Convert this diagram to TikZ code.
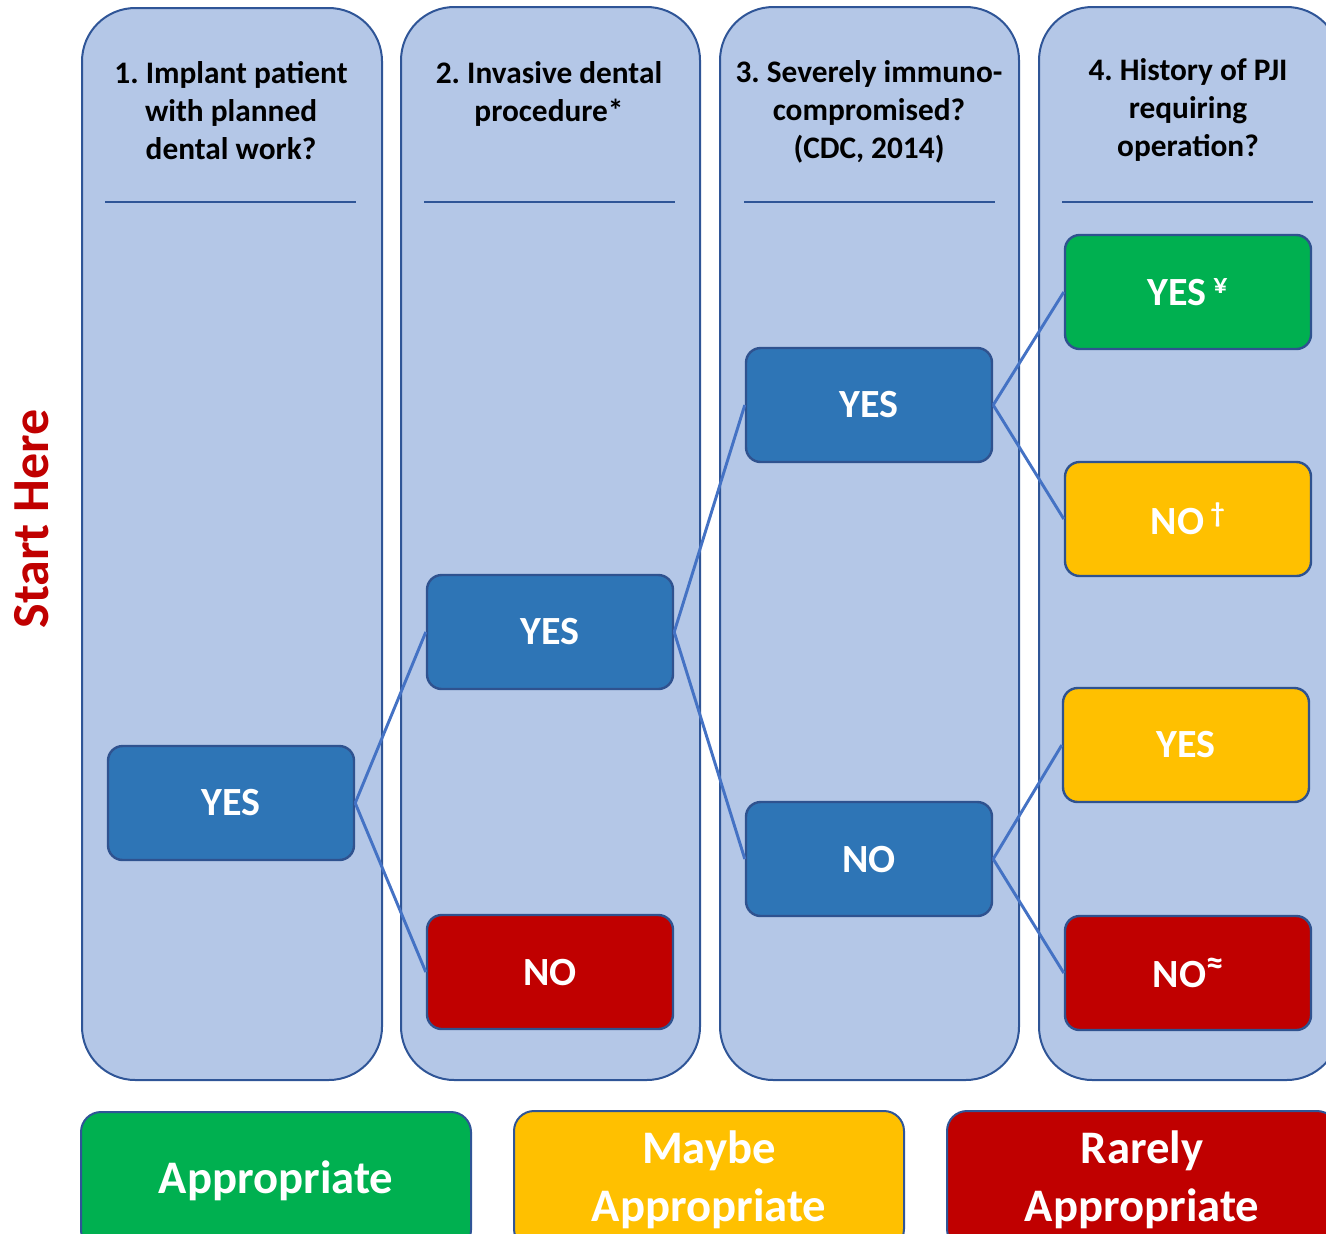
\documentclass[tikz,border=0pt]{standalone}
\usepackage{fontspec}
\setmainfont{Carlito}
\frenchspacing
\definecolor{lanefill}{RGB}{180,199,231}
\definecolor{laneedge}{RGB}{47,85,151}
\definecolor{boxblue}{RGB}{46,117,182}
\definecolor{boxedge}{RGB}{47,82,143}
\definecolor{okgreen}{RGB}{0,176,80}
\definecolor{maybeyellow}{RGB}{255,192,0}
\definecolor{rarered}{RGB}{192,0,0}
\definecolor{linkblue}{RGB}{68,114,196}

\begin{document}
\begin{tikzpicture}[x=0.75pt,y=0.75pt,yscale=-1,xscale=1,
  lane/.style={draw=laneedge,fill=lanefill,line width=1.5pt,rounded corners=40pt},
  rule/.style={draw=laneedge,line width=1.5pt},
  question/.style={align=center,font=\bfseries\fontsize{23.5}{28.5}\selectfont},
  choice/.style={draw=boxedge,line width=1.8pt,rounded corners=11pt,minimum width=184.5pt,minimum height=85.5pt,inner sep=0pt,text=white,font=\bfseries\fontsize{30}{36}\selectfont},
  verdict/.style={draw=laneedge,line width=1.5pt,rounded corners=15pt,minimum width=292.5pt,minimum height=103.5pt,inner sep=0pt,align=center,text=white,font=\bfseries\fontsize{35}{43.5}\selectfont},
  link/.style={draw=linkblue,line width=2.2pt}]
\clip (0,0) rectangle (1326,1233);

%Lanes
\draw[lane] (82,8) rectangle (382,1080);
\draw[lane] (401,7) rectangle (700,1080);
\draw[lane] (720,7) rectangle (1019,1080);
\draw[lane] (1039,7) rectangle (1340,1080);

%Header rules
\draw[rule] (105,202) -- (356,202);
\draw[rule] (424,202) -- (675,202);
\draw[rule] (744,202) -- (995,202);
\draw[rule] (1062,202) -- (1313,202);

%Questions
\node[question] (q1) at (231,111) {1. Implant patient\\with planned\\dental work?};
\node[question] (q2) at (549,94) {2. Invasive dental\\procedure*};
\node[question] (q3) at (869,112) {3. Severely immuno-\\compromised?\\(CDC, 2014)};
\node[question] (q4) at (1188,110) {4. History of PJI\\requiring\\operation?};

%Start label
\node[rotate=90,text=rarered,font=\bfseries\fontsize{39}{47}\selectfont] (start) at (32,519) {Start Here};

%Choices
\node[choice,fill=boxblue] (yesA) at (231,803) {YES};
\node[choice,fill=boxblue] (yesB) at (550,632) {YES};
\node[choice,fill=rarered] (noB) at (550,972) {NO};
\node[choice,fill=boxblue] (yesC) at (869,405) {YES};
\node[choice,fill=boxblue] (noC) at (869,859) {NO};
\node[choice,fill=okgreen] (yesD1) at (1188,292) {YES\,\textsuperscript{¥}};
\node[choice,fill=maybeyellow] (noD1) at (1188,519) {NO\,\textsuperscript{†}};
\node[choice,fill=maybeyellow] (yesD2) at (1186,745) {YES};
\node[choice,fill=rarered] (noD2) at (1188,973) {NO{\fontsize{26}{30}\selectfont\raisebox{10pt}{≈}}};

%Links
\draw[link] (yesA.east) -- (yesB.west);
\draw[link] (yesA.east) -- (noB.west);
\draw[link] (yesB.east) -- (yesC.west);
\draw[link] (yesB.east) -- (noC.west);
\draw[link] (yesC.east) -- (yesD1.west);
\draw[link] (yesC.east) -- (noD1.west);
\draw[link] (noC.east) -- (yesD2.west);
\draw[link] (noC.east) -- (noD2.west);

%Legend
\node[verdict,fill=okgreen] (good) at (276,1181) {Appropriate};
\node[verdict,fill=maybeyellow] (maybe) at (709,1180) {Maybe\\Appropriate};
\node[verdict,fill=rarered] (rare) at (1142,1180) {Rarely\\Appropriate};
\end{tikzpicture}
\end{document}
